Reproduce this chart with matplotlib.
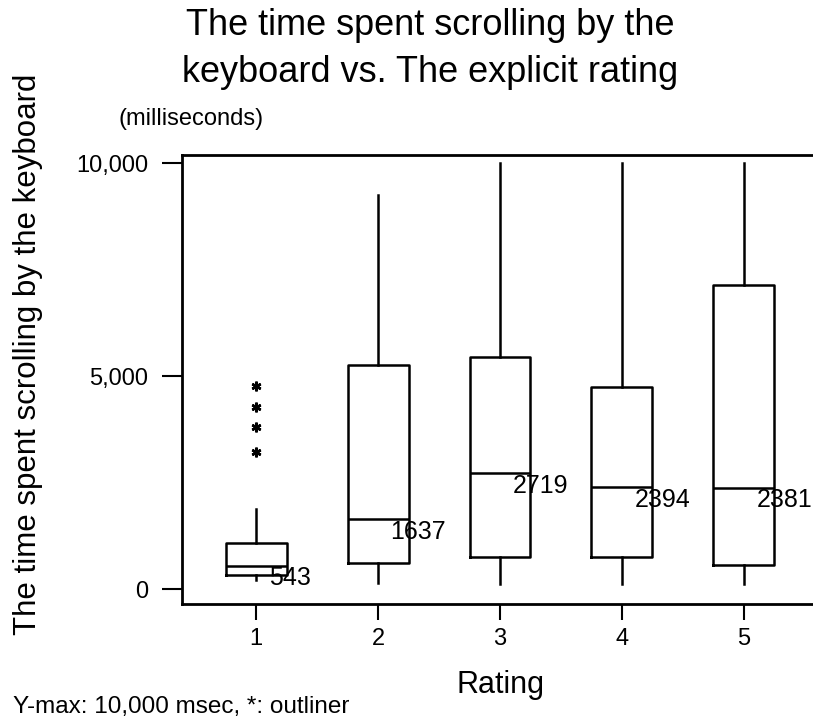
import matplotlib
matplotlib.use("Agg")
import matplotlib.pyplot as plt

plt.rcParams['font.family'] = ['Liberation Sans', 'DejaVu Sans']

ratings = [1, 2, 3, 4, 5]
tick_labels = ["1", "2", "3", "4", "5"]
medians = [543, 1637, 2719, 2394, 2381]
q1 = [336, 618, 759, 759, 563]
q3 = [1087, 5258, 5453, 4749, 7136]
whisk_lo = [211, 148, 110, 110, 110]
whisk_hi = [1871, 9249, 10000, 10000, 10000]
outliers = [[3223, 3810, 4280, 4772], [], [], [], []]

stats = []
for i in range(len(ratings)):
    stats.append(dict(med=medians[i], q1=q1[i], q3=q3[i],
                      whislo=whisk_lo[i], whishi=whisk_hi[i],
                      fliers=outliers[i], label=tick_labels[i]))

W, H = 813, 724
fig = plt.figure(figsize=(W / 100, H / 100), dpi=100)
ax = fig.add_axes([182 / W, 1 - 604 / H, 636 / W, 449 / H])

lw = 1.8
ax.bxp(stats, positions=ratings, widths=0.5, showcaps=False,
       boxprops=dict(color='black', linewidth=lw),
       whiskerprops=dict(color='black', linewidth=lw),
       medianprops=dict(color='black', linewidth=lw),
       flierprops=dict(marker=(6, 2, 0), markersize=7, markeredgewidth=1.8,
                       markeredgecolor='black', linestyle='none'))

# median values next to each box
for x, m in zip(ratings, medians):
    ax.annotate(f"{m}", xy=(x, m), xytext=(9, -9), textcoords='offset points',
                ha='left', va='center', fontsize=18)

ax.set_xlim(0.393, 5.607)
ax.set_ylim(-352, 10188)
ax.set_xticks(ratings)
ax.set_xticklabels(tick_labels)
ax.set_yticks([0, 5000, 10000])
ax.set_yticklabels(["0", "5,000", "10,000"])
ax.tick_params(axis='y', length=14.5, width=1.5, pad=10, labelsize=17)
ax.tick_params(axis='x', length=11.5, width=1.5, pad=6, labelsize=17)
for s in ['left', 'top', 'bottom']:
    ax.spines[s].set_linewidth(2)
ax.spines['right'].set_visible(False)

fig.text(430 / W, 1 - 35 / H, "The time spent scrolling by the",
         ha='center', va='baseline', fontsize=26)
fig.text(430 / W, 1 - 82 / H, "keyboard vs. The explicit rating",
         ha='center', va='baseline', fontsize=26)
fig.text(118 / W, 1 - 125 / H, "(milliseconds)", ha='left', va='baseline',
         fontsize=17)
fig.text(28 / W, 1 - 354 / H, "The time spent scrolling by the keyboard",
         rotation=90, ha='center', va='center', fontsize=22.5)
fig.text(500 / W, 1 - 693 / H, "Rating", ha='center', va='baseline',
         fontsize=22)
fig.text(13 / W, 1 - 713 / H, "Y-max: 10,000 msec, *: outliner",
         ha='left', va='baseline', fontsize=17.5)

fig.savefig("out.png", dpi=100)
